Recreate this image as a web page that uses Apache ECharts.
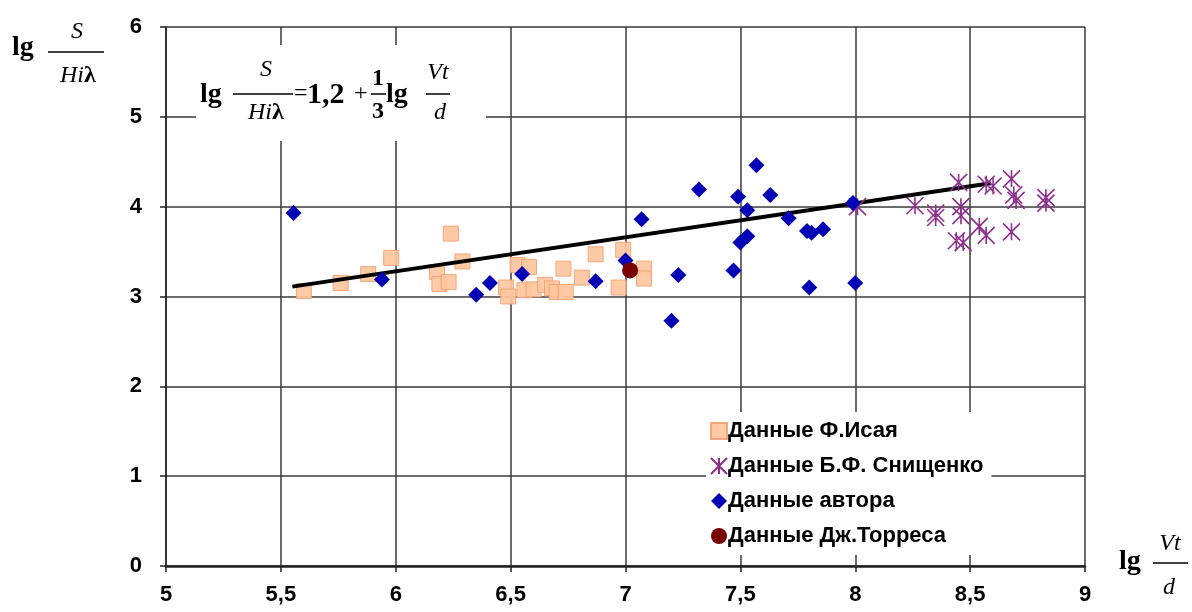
<!DOCTYPE html>
<html>
<head>
<meta charset="utf-8">
<script src="https://cdn.jsdelivr.net/npm/echarts@6/dist/echarts.min.js"></script>
<style>
  html, body { margin: 0; padding: 0; background: #fff; }
  #chart { width: 1192px; height: 612px; }
</style>
</head>
<body>
<div id="chart"></div>
<script>
// данные (lg Vt/d, lg S/Hiλ)
var isaya = [
  [5.60,3.06],[5.76,3.15],[5.88,3.25],[5.98,3.43],[6.18,3.27],[6.19,3.14],[6.23,3.16],
  [6.24,3.70],[6.29,3.39],[6.48,3.10],[6.49,3.00],[6.53,3.35],[6.56,3.07],[6.58,3.33],
  [6.60,3.08],[6.65,3.13],[6.68,3.09],[6.70,3.05],[6.74,3.05],[6.73,3.31],[6.81,3.21],
  [6.87,3.47],[6.97,3.10],[6.99,3.52],[7.08,3.31],[7.08,3.20]
];
var snischenko = [
  [8.01,4.00],[8.26,4.01],[8.35,3.93],[8.35,3.88],[8.45,4.27],[8.46,4.00],[8.46,3.90],
  [8.44,3.62],[8.47,3.60],[8.54,3.78],[8.57,3.68],[8.57,4.25],[8.60,4.23],[8.68,4.31],
  [8.69,4.13],[8.70,4.07],[8.68,3.72],[8.83,4.10],[8.83,4.04]
];
var author = [
  [5.555,3.93],[5.94,3.19],[6.35,3.02],[6.41,3.15],[6.55,3.25],[6.87,3.17],[7.00,3.40],
  [7.07,3.86],[7.32,4.19],[7.57,4.46],[7.49,4.11],[7.63,4.13],[7.53,3.96],[7.71,3.87],
  [7.50,3.60],[7.53,3.67],[7.79,3.73],[7.81,3.71],[7.86,3.75],[7.23,3.24],[7.47,3.29],
  [7.20,2.73],[7.80,3.10],[8.00,3.15],[7.99,4.04]
];
var torres = [[7.02,3.29]];
var fitLine = [[5.55,3.11],[8.59,4.26]];

var xMin = 5, xMax = 9, xStep = 0.5;
var yMin = 0, yMax = 6, yStep = 1;

var names = ['Данные Ф.Исая', 'Данные Б.Ф. Снищенко', 'Данные автора', 'Данные Дж.Торреса'];

var chart = echarts.init(document.getElementById('chart'));

var serif = '"Liberation Serif", "DejaVu Serif", serif';
function txt(s, x, y, font, align) {
  return { type: 'text', z: 101, style: { text: s, x: x, y: y, font: font, fill: '#000',
    textAlign: align || 'center', textVerticalAlign: 'middle' } };
}
function bar(x1, x2, y) {
  return { type: 'line', z: 101, shape: { x1: x1, y1: y, x2: x2, y2: y },
    style: { stroke: '#000', lineWidth: 1.5 } };
}

chart.setOption({
  animation: false,
  backgroundColor: '#fff',
  grid: { left: 166, right: 107, top: 27, bottom: 46 },
  xAxis: {
    type: 'value', min: xMin, max: xMax, interval: xStep,
    axisLine: { lineStyle: { color: '#222', width: 2.5 } },
    axisTick: { show: true, length: 6, lineStyle: { color: '#222', width: 1.5 } },
    axisLabel: {
      margin: 18, color: '#000', fontSize: 22, fontWeight: 'bold',
      fontFamily: '"Liberation Sans", Arial, sans-serif',
      formatter: function (v) { return String(v).replace('.', ','); }
    },
    splitLine: { show: true, lineStyle: { color: '#3a3a3a', width: 1.5 } }
  },
  yAxis: {
    type: 'value', min: yMin, max: yMax, interval: yStep,
    axisLine: { show: true, lineStyle: { color: '#222', width: 1.5 } },
    axisTick: { show: true, length: 6, lineStyle: { color: '#222', width: 1.5 } },
    axisLabel: {
      margin: 24, color: '#000', fontSize: 22, fontWeight: 'bold',
      fontFamily: '"Liberation Sans", Arial, sans-serif'
    },
    splitLine: { show: true, lineStyle: { color: '#3a3a3a', width: 1.5 } }
  },
  legend: {
    orient: 'vertical', left: 706, top: 412,
    data: names,
    backgroundColor: '#fff',
    padding: [8, 8, 8, 4],
    itemGap: 13, itemWidth: 16, itemHeight: 16,
    textStyle: { fontSize: 22, fontWeight: 'bold', color: '#000',
      fontFamily: '"Liberation Sans", Arial, sans-serif', padding: [0, 0, 0, -4] },
    z: 50
  },
  series: [
    {
      name: names[0], type: 'scatter', data: isaya, symbol: 'rect', symbolSize: 15,
      itemStyle: { color: '#ffc7a0', borderColor: '#f2a274', borderWidth: 1, opacity: 0.92 }, z: 3
    },
    {
      name: 'fit', type: 'line', data: fitLine, symbol: 'none',
      lineStyle: { color: '#000', width: 4 }, z: 4
    },
    {
      name: names[1], type: 'scatter', data: snischenko,
      symbol: 'path://M0,0L10,10M10,0L0,10M5,0L5,10', symbolSize: 17,
      itemStyle: { color: 'rgba(0,0,0,0)', borderColor: '#8e2f8e', borderWidth: 1.6, opacity: 1 }, z: 5
    },
    {
      name: names[2], type: 'scatter', data: author, symbol: 'diamond', symbolSize: [16, 16],
      itemStyle: { color: '#0000b4', opacity: 1 }, z: 6
    },
    {
      name: names[3], type: 'scatter', data: torres, symbol: 'circle', symbolSize: 16,
      itemStyle: { color: '#7a0000', opacity: 1 }, z: 7
    }
  ],
  graphic: [
    // y-axis title
    txt('lg', 12, 48, 'bold 28px ' + serif, 'left'),
    txt('S', 77, 32, 'italic 24px ' + serif),
    bar(48, 104, 52),
    txt('Hi', 84, 76, 'italic 24px ' + serif, 'right'),
    txt('λ', 84, 76, 'bold 24px ' + serif, 'left'),
    // formula box
    { type: 'rect', z: 100, shape: { x: 196, y: 45, width: 290, height: 96 },
      style: { fill: '#fff' } },
    txt('lg', 200, 95, 'bold 28px ' + serif, 'left'),
    txt('S', 266, 70, 'italic 24px ' + serif),
    bar(233, 293, 94),
    txt('Hi', 272, 113, 'italic 24px ' + serif, 'right'),
    txt('λ', 272, 113, 'bold 24px ' + serif, 'left'),
    txt('=', 294, 94, '24px ' + serif, 'left'),
    txt('1,2', 307, 95, 'bold 30px ' + serif, 'left'),
    txt('+', 354, 94, '24px ' + serif, 'left'),
    txt('1', 378, 79, 'bold 24px ' + serif),
    bar(371, 386, 94),
    txt('3', 378, 112, 'bold 24px ' + serif),
    txt('lg', 386, 95, 'bold 28px ' + serif, 'left'),
    txt('Vt', 438, 73, 'italic 24px ' + serif),
    bar(426, 450, 94),
    txt('d', 440, 113, 'italic 24px ' + serif),
    // x-axis title
    txt('lg', 1119, 562, 'bold 28px ' + serif, 'left'),
    txt('Vt', 1170, 544, 'italic 24px ' + serif),
    bar(1153, 1188, 563),
    txt('d', 1169, 588, 'italic 24px ' + serif)
  ]
});
</script>
</body>
</html>
